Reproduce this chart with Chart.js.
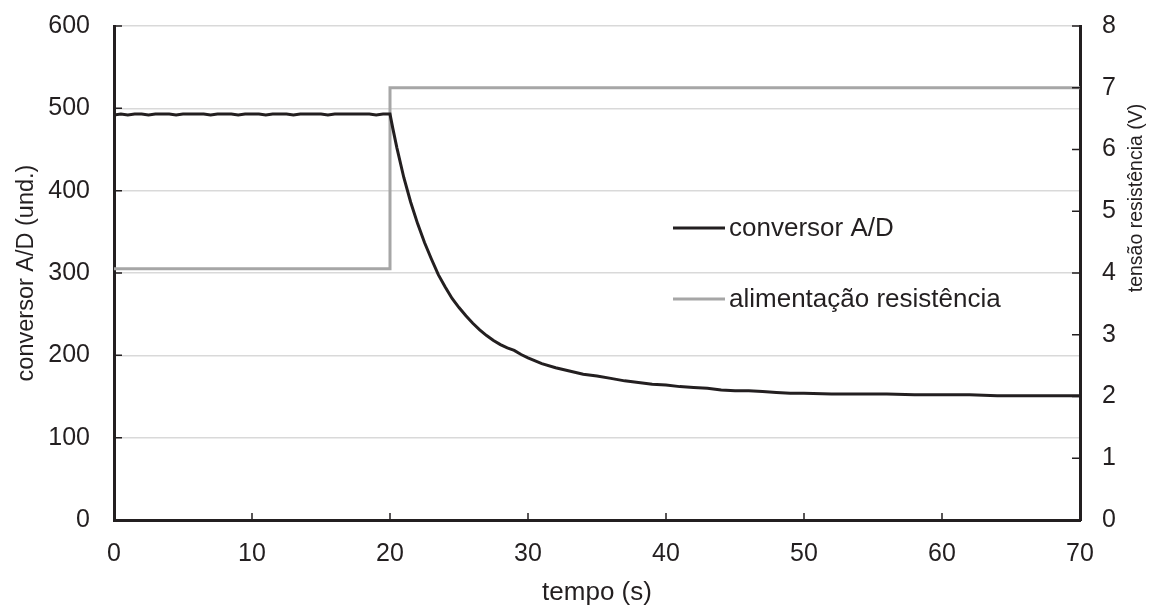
<!DOCTYPE html>
<html>
<head>
<meta charset="utf-8">
<script src="https://cdn.jsdelivr.net/npm/chart.js@4/dist/chart.umd.min.js"></script>
<style>
  html, body { margin: 0; padding: 0; background: #ffffff; }
  #wrap { width: 1151px; height: 608px; }
</style>
</head>
<body>
<div id="wrap"><canvas id="chart" width="1151" height="608"></canvas></div>
<script>
// A/D converter reading (units) over time (s)
const adTime = [
  0, 0.5, 1, 1.5, 2, 2.5, 3, 3.5, 4, 4.5, 5, 5.5, 6, 6.5, 7, 7.5, 8, 8.5, 9, 9.5,
  10, 10.5, 11, 11.5, 12, 12.5, 13, 13.5, 14, 14.5, 15, 15.5, 16, 16.5, 17, 17.5, 18, 18.5, 19, 19.5,
  20, 20.2, 20.5, 21, 21.5, 22, 22.5, 23, 23.5, 24, 24.5, 25, 25.5, 26, 26.5, 27, 27.5, 28, 28.5, 29, 29.5,
  30, 31, 32, 33, 34, 35, 36, 37, 38, 39, 40, 41, 42, 43, 44, 45, 46, 47, 48, 49,
  50, 52, 54, 56, 58, 60, 62, 64, 66, 68, 70
];
const adValue = [
  492, 493, 492, 493, 493, 492, 493, 493, 493, 492, 493, 493, 493, 493, 492, 493, 493, 493, 492, 493,
  493, 493, 492, 493, 493, 493, 492, 493, 493, 493, 493, 492, 493, 493, 493, 493, 493, 493, 492, 493,
  493, 476, 452, 416, 386, 360, 337, 317, 298, 283, 269, 258, 248, 239, 231, 224, 218, 213, 209, 206, 201,
  197, 190, 185, 181, 177, 175, 172, 169, 167, 165, 164, 162, 161, 160, 158, 157, 157, 156, 155, 154,
  154, 153, 153, 153, 152, 152, 152, 151, 151, 151, 151
];

// Heater supply voltage (V)
const powerTime = [0, 20, 20, 70];
const powerVolts = [4.07, 4.07, 7.0, 7.0];

const leftTicks = [0, 100, 200, 300, 400, 500, 600];
const rightTicks = [0, 1, 2, 3, 4, 5, 6, 7, 8];
const xTicks = [0, 10, 20, 30, 40, 50, 60, 70];

const seriesNames = ['conversor A/D', 'alimentação resistência'];
const axisTitles = { x: 'tempo (s)', left: 'conversor A/D (und.)', right: 'tensão resistência (V)' };

const INK = '#231f20';
const GREY_LINE = '#a6a6a6';
const GRID = '#d9d9d9';
const FONT = '"Liberation Sans", Arial, sans-serif';

const toPoints = (xs, ys) => xs.map((x, i) => ({ x: x, y: ys[i] }));

// Short tick marks pointing into the plot area
const innerTicks = {
  id: 'innerTicks',
  afterDraw(chart) {
    const { ctx, chartArea: a, scales } = chart;
    ctx.save();
    ctx.strokeStyle = INK;
    ctx.lineWidth = 1.5;
    ctx.beginPath();
    xTicks.slice(1, -1).forEach(v => {
      const px = scales.x.getPixelForValue(v);
      ctx.moveTo(px, a.bottom); ctx.lineTo(px, a.bottom - 7);
    });
    leftTicks.slice(1).forEach(v => {
      const py = scales.y.getPixelForValue(v);
      ctx.moveTo(a.left, py); ctx.lineTo(a.left + 8, py);
    });
    rightTicks.slice(1).forEach(v => {
      const py = scales.y2.getPixelForValue(v);
      ctx.moveTo(a.right, py); ctx.lineTo(a.right - 8, py);
    });
    ctx.stroke();
    ctx.restore();
  }
};

// Right axis title, reading bottom to top
const rightTitle = {
  id: 'rightTitle',
  afterDraw(chart) {
    const { ctx, chartArea: a } = chart;
    ctx.save();
    ctx.translate(a.right + 57, a.top + 172);
    ctx.rotate(-Math.PI / 2);
    ctx.font = '19.5px ' + FONT;
    ctx.fillStyle = INK;
    ctx.textAlign = 'center';
    ctx.textBaseline = 'middle';
    ctx.fillText(axisTitles.right, 0, 0);
    ctx.restore();
  }
};

// Legend placed inside the plot area
const insideLegend = {
  id: 'insideLegend',
  afterDraw(chart) {
    const { ctx, chartArea: a } = chart;
    const x0 = a.left + 559, x1 = a.left + 611, tx = a.left + 615;
    const rows = [
      { y: a.top + 202, color: INK, text: seriesNames[0] },
      { y: a.top + 273, color: GREY_LINE, text: seriesNames[1] }
    ];
    ctx.save();
    ctx.font = '26px ' + FONT;
    ctx.textBaseline = 'middle';
    ctx.textAlign = 'left';
    rows.forEach(r => {
      ctx.strokeStyle = r.color;
      ctx.lineWidth = 3;
      ctx.beginPath();
      ctx.moveTo(x0, r.y); ctx.lineTo(x1, r.y);
      ctx.stroke();
      ctx.fillStyle = INK;
      ctx.fillText(r.text, tx, r.y + 1);
    });
    ctx.restore();
  }
};

const noEdgePadding = s => { s.paddingTop = 0; s.paddingBottom = 0; };

new Chart(document.getElementById('chart'), {
  type: 'scatter',
  data: {
    datasets: [
      {
        label: seriesNames[1],
        data: toPoints(powerTime, powerVolts),
        yAxisID: 'y2',
        showLine: true,
        borderColor: GREY_LINE,
        borderWidth: 3,
        pointRadius: 0,
        tension: 0,
        order: 2
      },
      {
        label: seriesNames[0],
        data: toPoints(adTime, adValue),
        yAxisID: 'y',
        showLine: true,
        borderColor: INK,
        borderWidth: 3,
        pointRadius: 0,
        tension: 0,
        order: 1
      }
    ]
  },
  options: {
    responsive: false,
    animation: false,
    layout: { padding: { top: 26, left: 0, right: 0, bottom: 0 } },
    plugins: { legend: { display: false }, tooltip: { enabled: false } },
    scales: {
      x: {
        type: 'linear',
        min: 0, max: 70,
        afterFit: s => { s.height = 88; },
        afterBuildTicks: s => { s.ticks = xTicks.map(v => ({ value: v })); },
        grid: { color: 'transparent', drawTicks: false },
        border: { display: true, color: INK, width: 3 },
        ticks: { color: INK, font: { family: FONT, size: 25 }, padding: 19, maxRotation: 0 },
        title: { display: true, text: axisTitles.x, color: INK, font: { family: FONT, size: 26 }, padding: { top: 0, bottom: 0 } }
      },
      y: {
        type: 'linear',
        position: 'left',
        min: 0, max: 600,
        afterFit: s => { s.width = 114; noEdgePadding(s); },
        afterBuildTicks: s => { s.ticks = leftTicks.map(v => ({ value: v })); },
        grid: { color: GRID, lineWidth: 1.5, drawTicks: false },
        border: { display: true, color: INK, width: 3 },
        ticks: { color: INK, font: { family: FONT, size: 25 }, padding: 24 },
        title: { display: true, text: axisTitles.left, color: INK, font: { family: FONT, size: 23.5 }, padding: { top: 12, bottom: 0 } }
      },
      y2: {
        type: 'linear',
        position: 'right',
        min: 0, max: 8,
        afterFit: s => { s.width = 71; noEdgePadding(s); },
        afterBuildTicks: s => { s.ticks = rightTicks.map(v => ({ value: v })); },
        grid: { drawOnChartArea: false, drawTicks: false },
        border: { display: true, color: INK, width: 3 },
        ticks: { color: INK, font: { family: FONT, size: 25 }, padding: 22 },
        title: { display: false }
      }
    }
  },
  plugins: [innerTicks, insideLegend, rightTitle]
});
</script>
</body>
</html>
